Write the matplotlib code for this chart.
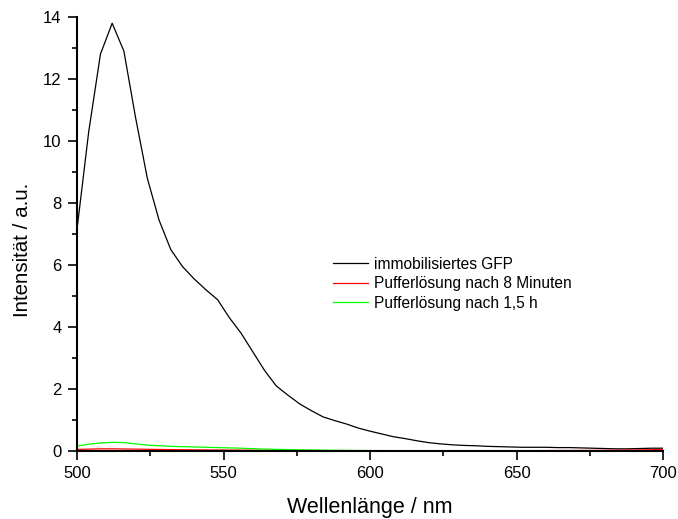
import numpy as np
import matplotlib
matplotlib.use("Agg")
import matplotlib.pyplot as plt
from matplotlib.ticker import MultipleLocator

plt.rcParams['font.family'] = ['Liberation Sans', 'DejaVu Sans']

# Emission spectra, sampled every 4 nm from 500 to 700 nm
wavelength = list(range(500, 701, 4))

gfp_immobilized = [
    7.15, 10.3, 12.8, 13.8, 12.9, 10.75, 8.8, 7.45, 6.5, 5.95,
    5.55, 5.2, 4.88, 4.3, 3.8, 3.2, 2.6, 2.1, 1.8, 1.52,
    1.3, 1.1, 0.98, 0.87, 0.74, 0.64, 0.55, 0.46, 0.4, 0.33,
    0.27, 0.23, 0.2, 0.18, 0.17, 0.15, 0.14, 0.13, 0.12, 0.12,
    0.12, 0.11, 0.11, 0.1, 0.09, 0.08, 0.07, 0.07, 0.08, 0.09,
    0.09,
]

buffer_8min = [
    0.05, 0.06, 0.07, 0.07, 0.065, 0.06, 0.055, 0.05, 0.045, 0.04,
    0.038, 0.035, 0.032, 0.03, 0.028, 0.025, 0.022, 0.02, 0.018, 0.016,
    0.015, 0.014, 0.013, 0.012, 0.011, 0.01, 0.01, 0.01, 0.01, 0.01,
    0.01, 0.01, 0.01, 0.01, 0.01, 0.01, 0.01, 0.01, 0.012, 0.012,
    0.014, 0.015, 0.016, 0.018, 0.02, 0.022, 0.025, 0.03, 0.035, 0.04,
    0.05,
]

buffer_1_5h = [
    0.16, 0.22, 0.26, 0.28, 0.27, 0.23, 0.19, 0.17, 0.15, 0.14,
    0.13, 0.12, 0.11, 0.1, 0.09, 0.075, 0.062, 0.052, 0.045, 0.038,
    0.032, 0.027, 0.023, 0.02, 0.017, 0.015, 0.013, 0.012, 0.011, 0.01,
    0.01, 0.01, 0.01, 0.01, 0.01, 0.01, 0.01, 0.01, 0.01, 0.01,
    0.01, 0.01, 0.01, 0.01, 0.01, 0.01, 0.01, 0.01, 0.01, 0.01,
    0.01,
]

labels = ["immobilisiertes GFP", "Pufferlösung nach 8 Minuten", "Pufferlösung nach 1,5 h"]

fig = plt.figure(figsize=(6.78, 5.19), dpi=100)
ax = fig.add_axes([77 / 678, 1 - 451 / 519, 586 / 678, 434 / 519])

ax.plot(wavelength, gfp_immobilized, color="black", lw=0.9, label=labels[0])
ax.plot(wavelength, buffer_8min, color="#ff0000", lw=0.9, label=labels[1])
ax.plot(wavelength, buffer_1_5h, color="#00ff00", lw=0.9, label=labels[2])

ax.set_xlim(500, 700)
ax.set_ylim(0, 14)
ax.xaxis.set_major_locator(MultipleLocator(50))
ax.xaxis.set_minor_locator(MultipleLocator(25))
ax.yaxis.set_major_locator(MultipleLocator(2))
ax.yaxis.set_minor_locator(MultipleLocator(1))

for side in ("top", "right"):
    ax.spines[side].set_visible(False)
for side in ("left", "bottom"):
    ax.spines[side].set_linewidth(1.5)

ax.tick_params(which="major", direction="out", length=6.5, width=1.2,
               labelsize=12, pad=4.5)
ax.tick_params(which="minor", direction="out", length=3.6, width=1.2)

ax.set_xlabel("Wellenlänge / nm", fontsize=15.5)
ax.set_ylabel("Intensität / a.u.", fontsize=14.8)
ax.xaxis.set_label_coords(0.5, -0.106)
ax.yaxis.set_label_coords(-0.0766, 0.463)

ax.legend(loc="upper left", bbox_to_anchor=(0.437, 0.448), frameon=False,
          fontsize=11.2, handlelength=2.25, handletextpad=0.38,
          labelspacing=0.3, borderpad=0, borderaxespad=0)

fig.savefig("out.png", dpi=100)
